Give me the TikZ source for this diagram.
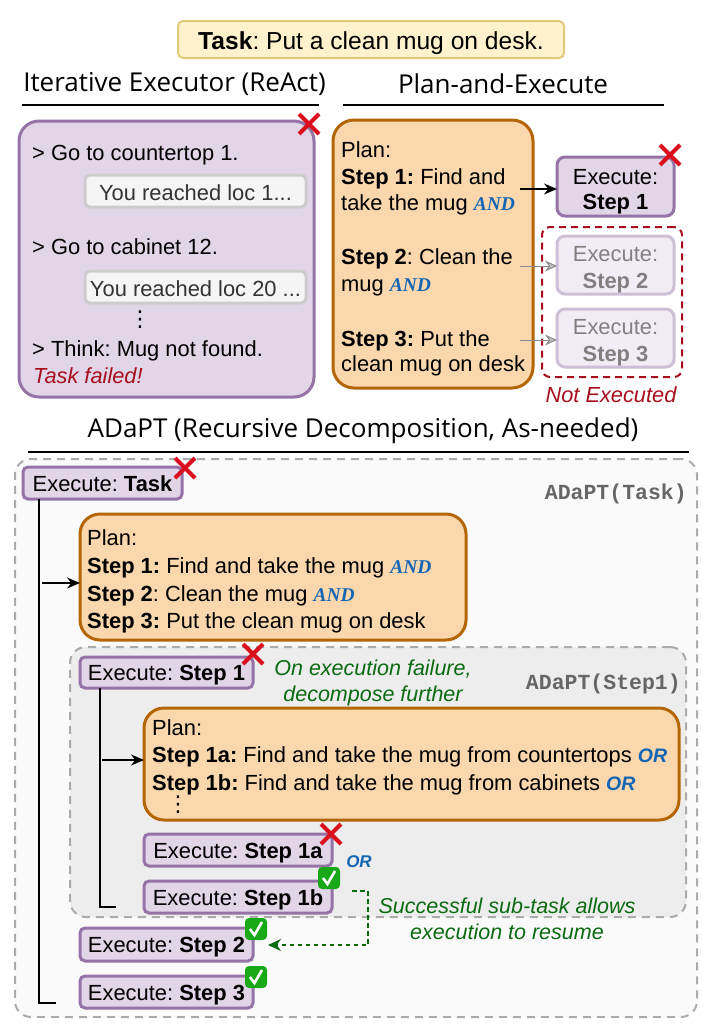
\documentclass[tikz,border=0pt]{standalone}
\usepackage{fontspec}
\setmainfont{Liberation Sans}
\newfontfamily\titlef{Open Sans}
\newfontfamily\monof{Liberation Mono}
\newfontfamily\andf{Liberation Serif}
\newfontfamily\dej{DejaVu Sans}
\usetikzlibrary{arrows.meta}
\frenchspacing
\definecolor{purpF}{HTML}{E1D5E7}
\definecolor{purpD}{HTML}{9673A6}
\definecolor{orF}{HTML}{FAD7AC}
\definecolor{orD}{HTML}{B46504}
\definecolor{taskF}{HTML}{FFF2CC}
\definecolor{taskD}{HTML}{E3C97A}
\definecolor{fadeF}{HTML}{F2EDF5}
\definecolor{fadeD}{HTML}{CDBFD6}
\definecolor{fadeT}{HTML}{808080}
\definecolor{xred}{HTML}{D90F1E}
\definecolor{dred}{HTML}{A80F1E}
\definecolor{okgreen}{HTML}{0B6B12}
\definecolor{blu}{HTML}{1565B5}
\definecolor{chk}{HTML}{18A818}
\definecolor{dashg}{HTML}{ABABAB}
\definecolor{monog}{HTML}{666666}
\newcommand{\pxbox}[7]{%
 \pgfmathsetmacro\bcx{(#2+#4)/2}\pgfmathsetmacro\bcy{(#3+#5)/2}%
 \pgfmathsetmacro\bw{#4-#2}\pgfmathsetmacro\bh{#5-#3}%
 \node[#6, minimum width=\bw pt, minimum height=\bh pt, inner sep=0pt, outer sep=0pt] (#1) at (\bcx,\bcy) {#7};}
\newcommand{\redx}[2]{%
 \draw[xred, line width=4pt] (#1-10,#2-10) -- (#1+10,#2+10) (#1-10,#2+10) -- (#1+10,#2-10);}
\newcommand{\okchk}[2]{%
 \fill[chk, rounded corners=4pt] (#1-11,#2-11) rectangle (#1+11,#2+11);
 \draw[white, line width=2.6pt] (#1-6,#2) -- (#1-1.5,#2+6) -- (#1+6,#2-7);}
\newcommand{\AND}{{\andf\bfseries\itshape\fontsize{19.5}{25}\selectfont\color{blu}AND}}
\newcommand{\OR}{{\bfseries\itshape\fontsize{19.5}{25}\selectfont\color{blu}OR}}
\newcommand{\lift}{\rule{0pt}{24.5pt}}
\tikzset{
 x=1pt,y=-1pt,
 every node/.style={font=\fontsize{21.9}{25}\selectfont},
 one/.style={text height=18pt, text depth=2pt},
 ln/.style={anchor=west, inner sep=0pt, one},
 lnc/.style={inner sep=0pt, one},
 titl/.style={font=\titlef\fontsize{26}{28}\selectfont, inner sep=0pt},
 rule/.style={draw=black, line width=1.3pt},
 purp/.style={draw=purpD, fill=purpF, line width=3pt, rounded corners=#1},
 purp/.default=5pt,
 fade/.style={draw=fadeD, fill=fadeF, line width=3pt, rounded corners=8pt, text=fadeT, align=center},
 plan/.style={draw=orD, fill=orF, line width=3pt, rounded corners=#1},
 plan/.default=21pt,
 obs/.style={draw=black!20, fill=black!4, line width=3pt, rounded corners=5pt, text=black!80, text height=21pt, text depth=2pt},
 frame/.style={draw=dashg, line width=2pt, dash pattern=on 8pt off 6pt, rounded corners=16pt},
 mono/.style={anchor=east, inner sep=0pt, text=monog, font=\monof\bfseries\fontsize{21.5}{25}\selectfont},
 green/.style={text=okgreen, font=\itshape\fontsize{21.5}{25.5}\selectfont},
 redit/.style={text=dred, font=\itshape\fontsize{21.8}{25}\selectfont},
 link/.style={draw=black, line width=1.4pt},
 arr/.style={link, -{Stealth[length=13pt,width=11pt]}},
 garr/.style={draw=black!45, line width=1pt, -{Stealth[length=12pt,width=11pt,fill=black!25]}},
}
\begin{document}
\begin{tikzpicture}
\useasboundingbox (0,0) rectangle (720,1036);
\fill[white] (0,0) rectangle (720,1036);
% task
\pxbox{task}{178}{21}{564}{58}{draw=taskD, fill=taskF, line width=2pt, rounded corners=5pt, font=\fontsize{24.6}{26}\selectfont, text height=22pt, text depth=2pt}{\textbf{Task}: Put a clean mug on desk.}
% titles
\node[titl] (t1) at (174.5,84) {Iterative Executor (ReAct)};
\node[titl] (t2) at (503,84) {Plan-and-Execute};
\node[titl] (t3) at (363,431) {ADaPT (Recursive Decomposition, As-needed)};
\coordinate (r1a) at (22,105); \coordinate (r1b) at (319,105);
\coordinate (r2a) at (343,105); \coordinate (r2b) at (664,105);
\coordinate (r3a) at (28,452); \coordinate (r3b) at (689,452);
\draw[rule] (r1a) -- (r1b);
\draw[rule] (r2a) -- (r2b);
\draw[rule] (r3a) -- (r3b);
% ReAct
\pxbox{react}{19}{121}{314}{397}{purp=20pt}{}
\node[ln] (ra1) at (32,152) {> Go to countertop 1.};
\pxbox{ob1}{85}{175}{306}{207}{obs}{You reached loc 1...}
\node[ln] (ra2) at (32,246) {> Go to cabinet 12.};
\pxbox{ob2}{85}{271}{306}{303}{obs}{You reached loc 20 ...}
\node[lnc] (rd) at (140,318) {\dej ⋮};
\node[ln] (ra3) at (32,348) {> Think: Mug not found.};
\node[ln, redit] (rf) at (33,375) {Task failed!};
\redx{309}{124}
% Plan-and-execute
\pxbox{plan1}{333}{120}{533}{388}{plan}{}
\node[ln] (p1) at (341,149) {Plan:};
\node[ln] (p2) at (341,176) {\textbf{Step 1:} Find and};
\node[ln] (p3) at (341,202) {take the mug \AND};
\node[ln] (p4) at (341,256) {\textbf{Step 2}: Clean the};
\node[ln] (p5) at (341,283) {mug \AND};
\node[ln] (p6) at (341,338) {\textbf{Step 3:} Put the};
\node[ln] (p7) at (341,363) {clean mug on desk};
\pxbox{ex1}{557}{157}{674}{216}{purp=8pt, align=center}{\rule{0pt}{26pt}Execute:\\\textbf{Step 1}}
\pxbox{nex}{542}{227}{682}{377}{draw=dred, line width=2pt, dash pattern=on 7pt off 5pt, rounded corners=8pt}{}
\pxbox{ex2}{557}{236}{674}{294}{fade}{\lift Execute:\\[1.5pt]\textbf{Step 2}}
\pxbox{ex3}{557}{309}{674}{367}{fade}{\lift Execute:\\[1.5pt]\textbf{Step 3}}
\node[lnc, redit] (ne) at (611,394) {Not Executed};
\coordinate (a1) at (520,189); \coordinate (a2) at (520,266); \coordinate (a3) at (520,340);
\draw[arr] (a1) -- (ex1.west |- a1);
\draw[garr] (a2) -- (ex2.west |- a2);
\draw[garr] (a3) -- (ex3.west |- a3);
\redx{670}{155}
% ADaPT outer
\pxbox{outer}{15}{459}{697}{1017}{frame, fill=black!2}{}
\pxbox{eT}{23}{467}{182}{499}{purp, one}{Execute: \textbf{Task}}
\node[mono] (mT) at (687,494) {ADaPT(Task)};
\pxbox{plan2}{80}{514}{466}{640}{plan=20pt}{}
\node[ln] (q1) at (87,537) {Plan:};
\node[ln] (q2) at (87,565) {\textbf{Step 1:} Find and take the mug \AND};
\node[ln] (q3) at (87,593) {\textbf{Step 2}: Clean the mug \AND};
\node[ln] (q4) at (87,620) {\textbf{Step 3:} Put the clean mug on desk};
% inner frame
\pxbox{inner}{70}{647}{686}{917}{frame, fill=black!7}{}
\pxbox{e1}{80}{657}{253}{688}{purp, one}{Execute: \textbf{Step 1}}
\node[green, align=center, inner sep=0pt] (g1) at (373,683) {On execution failure,\\decompose further};
\node[mono] (mS) at (681,684) {ADaPT(Step1)};
\pxbox{plan3}{144}{708}{679}{820}{plan=20pt}{}
\node[ln] (s1) at (152,727) {Plan:};
\node[ln] (s2) at (152,754) {\textbf{Step 1a:} Find and take the mug from countertops \OR};
\node[ln] (s3) at (152,782) {\textbf{Step 1b:} Find and take the mug from cabinets \OR};
\node[lnc] (sd) at (178,803) {\dej ⋮};
\pxbox{e1a}{144}{834}{332}{866}{purp, one}{Execute: \textbf{Step 1a}}
\pxbox{e1b}{144}{881}{332}{913}{purp, one}{Execute: \textbf{Step 1b}}
\node[lnc] (or) at (359,859) {{\fontsize{17}{20}\selectfont\bfseries\itshape\color{blu}OR}};
\pxbox{e2}{80}{928}{253}{961}{purp, one}{Execute: \textbf{Step 2}}
\pxbox{e3}{80}{976}{253}{1008}{purp, one}{Execute: \textbf{Step 3}}
\node[green, align=center, inner sep=0pt] (g2) at (507,919) {Successful sub-task allows\\execution to resume};
% connectors
\coordinate (v1) at (39,499); \coordinate (v1b) at (39,1003); \coordinate (v1c) at (56,1003);
\draw[link] (v1) -- (v1b) -- (v1c);
\coordinate (a4) at (42,583);
\draw[arr] (a4) -- (plan2.west |- a4);
\coordinate (v2) at (100,688); \coordinate (v2b) at (100,907); \coordinate (v2c) at (116,907);
\draw[link] (v2) -- (v2b) -- (v2c);
\coordinate (a5) at (102,760);
\draw[arr] (a5) -- (plan3.west |- a5);
\coordinate (d1) at (352,891); \coordinate (d2) at (368,891); \coordinate (d3) at (368,945); \coordinate (d4) at (268,945);
\draw[draw=okgreen, line width=1.2pt, dash pattern=on 4.5pt off 3.5pt, -{Stealth[length=13pt,width=12pt,fill=okgreen]}] (d1) -- (d2) -- (d3) -- (d4);
% marks
\redx{185}{468}
\redx{253}{654}
\redx{331}{834}
\okchk{329}{878}
\okchk{256}{929}
\okchk{256}{977}
\end{tikzpicture}
\end{document}
